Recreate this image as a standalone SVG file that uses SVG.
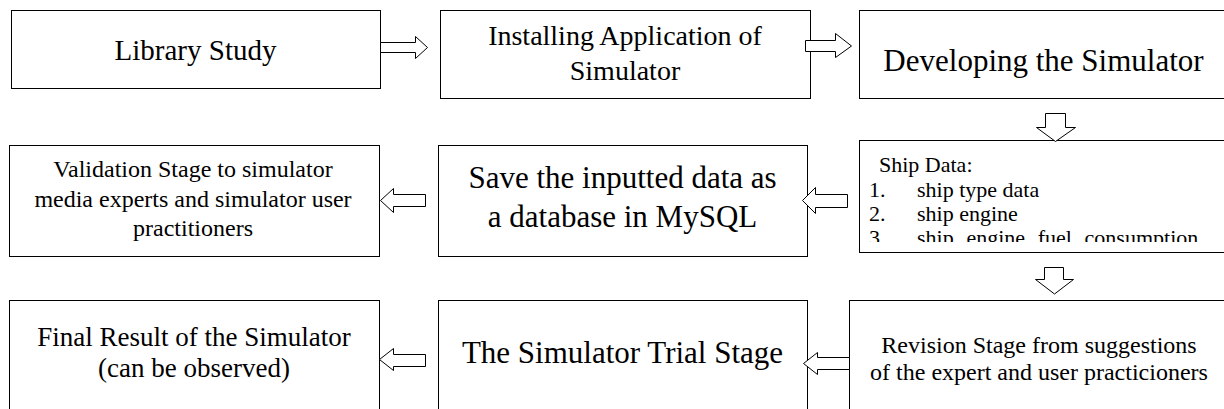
<svg xmlns="http://www.w3.org/2000/svg" width="1224" height="409" viewBox="0 0 1224 409">
<style>
.box{fill:#fff;stroke:#000;stroke-width:1}
.arr{fill:#fff;stroke:#000;stroke-width:1;stroke-linejoin:miter}
text{font-family:"Liberation Serif","Times New Roman",serif;fill:#000}
.c{text-anchor:middle}
</style>
<defs>
<clipPath id="shipclip"><rect x="859" y="140" width="370" height="102"/></clipPath>
</defs>
<rect width="1224" height="409" fill="#fff"/>
<g id="n1">
<rect class="box" x="11.5" y="10.5" width="369" height="78"/>
<text class="c" x="195.5" y="60" font-size="29">Library Study</text>
</g>
<g id="n2">
<rect class="box" x="440.5" y="10.5" width="370" height="88"/>
<text class="c" x="625" y="45" font-size="28">Installing Application of</text>
<text class="c" x="625" y="80" font-size="28">Simulator</text>
</g>
<g id="n3">
<rect class="box" x="859.5" y="10.5" width="369" height="88"/>
<text class="c" x="1043.5" y="71" font-size="31">Developing the Simulator</text>
</g>
<g id="n4">
<rect class="box" x="859.5" y="140.5" width="369" height="112"/>
<g clip-path="url(#shipclip)" font-size="22">
<text x="879" y="172">Ship Data:</text>
<text x="869" y="196.5">1.</text><text x="917" y="196.5">ship type data</text>
<text x="869" y="220.5">2.</text><text x="917" y="220.5">ship engine</text>
<text x="869" y="244.5">3</text>
<text y="244.5"><tspan x="917">ship</tspan><tspan x="966.4">engine</tspan><tspan x="1037.7">fuel</tspan><tspan x="1084.6">consumption</tspan></text>
</g>
</g>
<g id="n5">
<rect class="box" x="438.5" y="145.5" width="369" height="111"/>
<text class="c" x="622.5" y="188" font-size="31">Save the inputted data as</text>
<text class="c" x="622.5" y="227" font-size="31">a database in MySQL</text>
</g>
<g id="n6">
<rect class="box" x="9.5" y="145.5" width="370" height="111"/>
<text class="c" x="193" y="177" font-size="24">Validation Stage to simulator</text>
<text class="c" x="193" y="207" font-size="24">media experts and simulator user</text>
<text class="c" x="193" y="236" font-size="24">practitioners</text>
</g>
<g id="n7">
<rect class="box" x="849.5" y="300.5" width="380" height="120"/>
<text class="c" x="1039" y="353" font-size="24">Revision Stage from suggestions</text>
<text class="c" x="1039" y="380" font-size="24">of the expert and user practicioners</text>
</g>
<g id="n8">
<rect class="box" x="438.5" y="300.5" width="369" height="120"/>
<text class="c" x="622.5" y="363" font-size="31">The Simulator Trial Stage</text>
</g>
<g id="n9">
<rect class="box" x="9.5" y="300.5" width="370" height="120"/>
<text class="c" x="194" y="346" font-size="27">Final Result of the Simulator</text>
<text class="c" x="194" y="377" font-size="27">(can be observed)</text>
</g>
<g id="connectors">
<polygon class="arr" points="380.5,42.5 415.5,42.5 415.5,36.5 427.5,47.5 415.5,58.5 415.5,52.5 380.5,52.5"/>
<polygon class="arr" points="805.5,40.5 835.5,40.5 835.5,33.5 851.5,46 835.5,57.5 835.5,51.5 805.5,51.5"/>
<polygon class="arr" points="1045.5,113.5 1065.5,113.5 1065.5,127.5 1075.5,127.5 1055.5,141.5 1036.5,127.5 1045.5,127.5"/>
<polygon class="arr" points="847.5,194.5 815.5,194.5 815.5,187.5 802.5,200.5 815.5,213.5 815.5,207.5 847.5,207.5"/>
<polygon class="arr" points="425.5,194.5 393.5,194.5 393.5,188.5 380.5,200.5 393.5,212.5 393.5,206.5 425.5,206.5"/>
<polygon class="arr" points="1044.5,267.5 1063.5,267.5 1063.5,279.5 1073.5,279.5 1054.5,294 1035.5,279.5 1044.5,279.5"/>
<polygon class="arr" points="849.5,357.5 817.5,357.5 817.5,352.5 803.5,363.5 817.5,374.5 817.5,369.5 849.5,369.5"/>
<polygon class="arr" points="425.5,354.5 393.5,354.5 393.5,348.5 379.5,359.5 393.5,370.5 393.5,366.5 425.5,366.5"/>
</g>
</svg>
